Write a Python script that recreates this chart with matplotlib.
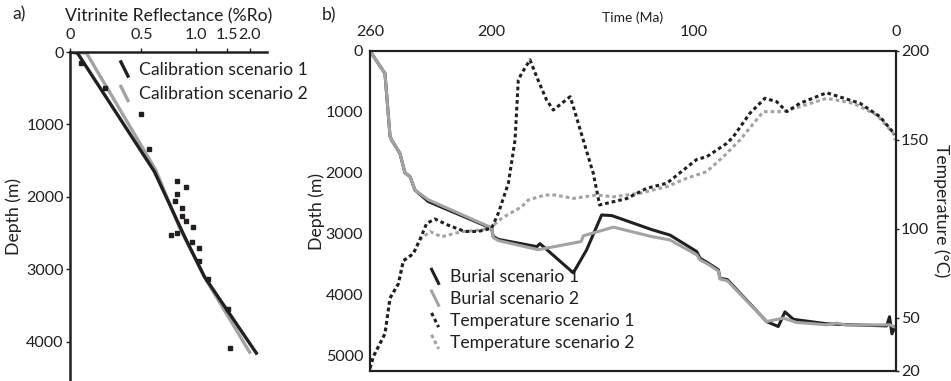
import matplotlib
matplotlib.use('Agg')
import matplotlib.pyplot as plt
from matplotlib.legend_handler import HandlerLine2D
from matplotlib.lines import Line2D
from matplotlib.ticker import FixedLocator, NullLocator

plt.rcParams['font.family'] = ['Lato', 'DejaVu Sans']

# a) vitrinite reflectance vs depth
ro_s1 = [0.2, 0.22, 0.59, 0.87, 1.12, 2.18]
ro_s1_depth = [0, 14, 1650, 2550, 3100, 4155]
ro_s2 = [0.2, 0.247, 0.60, 0.81, 1.13, 2.0]
ro_s2_depth = [0, 14, 1628, 2410, 3120, 4142]
ro_meas = [0.229, 0.315, 0.50, 0.554, 0.784, 0.89, 0.784, 0.764, 0.836, 0.836,
           0.89, 0.963, 0.727, 0.784, 0.952, 1.04, 1.04, 1.18, 1.51, 1.55]
ro_meas_depth = [152, 497, 855, 1338, 1779, 1862, 1959, 2055, 2152, 2262,
                 2331, 2414, 2524, 2497, 2621, 2703, 2883, 3131, 3545, 4083]
ro_ticks = [0.2, 0.5, 1.0, 1.5, 2.0]
ro_ticklabels = ['0', '0.5', '1.0', '1.5', '2.0']

# b) burial and temperature histories
burial1_age = [260, 252.6, 250.1, 249.3, 245.2, 242.7, 240.2, 237.8, 231.2, 199.9,
               199.1, 196.6, 177.5, 176.0, 159.5, 152.9, 145.5, 140.5, 120.8, 111.7,
               98.5, 96.9, 92.8, 87.8, 87.0, 83.4, 63.9, 58.2, 54.9, 50.8,
               49.1, 34.3, 24.4, 4.6, 3.2, 2.0, 0.5]
burial1_depth = [0, 370, 1400, 1460, 1680, 2000, 2060, 2280, 2470, 2910,
                 3040, 3090, 3210, 3160, 3640, 3260, 2690, 2700, 2930, 3020,
                 3290, 3400, 3480, 3590, 3730, 3750, 4440, 4520, 4280, 4400,
                 4410, 4475, 4490, 4510, 4360, 4640, 4525]
burial2_age = [260, 252.6, 250.1, 249.3, 245.2, 242.7, 240.2, 237.8, 231.2, 199.9,
               199.1, 196.6, 176.8, 155.6, 154.6, 139.7, 120.8, 111.7, 98.5, 96.9,
               92.8, 87.8, 87.0, 83.4, 63.9, 55.7, 49.1, 34.3, 29.3, 24.4,
               3.0, 0.5]
burial2_depth = [0, 370, 1400, 1460, 1680, 2000, 2060, 2280, 2440, 2900,
                 3060, 3110, 3260, 3126, 3033, 2890, 3044, 3100, 3344, 3426,
                 3500, 3610, 3740, 3770, 4438, 4382, 4454, 4492, 4464, 4497,
                 4492, 4530]
temp1_age = [260, 258.4, 252.6, 250.1, 246.0, 243.5, 238.6, 235.3, 232.0, 227.9,
             221.3, 213.1, 206.5, 199.9, 196.6, 191.6, 188.3, 186.7, 185.0, 180.9,
             177.6, 172.7, 169.4, 161.1, 159.5, 154.6, 149.6, 146.5, 133.1, 123.2,
             113.3, 98.5, 93.6, 83.7, 80.4, 72.2, 64.8, 59.0, 54.0, 47.5,
             34.3, 17.8, 7.9, 0.5]
temp1 = [21.5, 28, 41, 61, 69, 82, 86, 94, 103, 105.5,
         102, 98.5, 98.5, 100.3, 108.7, 125.6, 150, 183.7, 187.5, 195,
         185.5, 172.4, 166.8, 174.3, 168.7, 150, 131, 113.4, 117, 122.8,
         125.6, 139, 140.5, 148, 151.8, 165, 173.4, 171.5, 165.9, 170.6,
         176.5, 170.6, 163, 153]
temp2_age = [260, 258.4, 252.6, 250.1, 246.0, 243.5, 238.6, 235.3, 230.3, 224.6,
             214.7, 204.8, 199.9, 194.9, 185.0, 181.8, 173.5, 168.6, 159.5, 147.9,
             139.7, 126.5, 113.3, 103.5, 93.6, 85.4, 77.1, 65.6, 55.7, 47.5,
             34.3, 21.1, 9.5, 1.3, 0.5]
temp2 = [21.5, 28, 41, 61, 69, 82, 86, 94, 98.4, 95.5,
         98.4, 99.3, 101.2, 105.9, 112.4, 116.2, 119, 119, 117.1, 119,
         118, 120, 123.7, 128.4, 132.1, 140.5, 150, 165.9, 165.9, 168.7,
         173.4, 170.6, 164, 153.7, 149.9]
age_ticks = [260, 200, 100, 0]
depth_ticks = [0, 1000, 2000, 3000, 4000, 5000]
temp_ticks = [20, 50, 100, 150, 200]

BLACK = '#231f20'
GREY = '#a3a3a3'
FS = 12.7      # labels and legends
TFS = 11.6     # tick labels
DOT = (0, (1.2, 1.0))

plt.rcParams['text.color'] = BLACK
plt.rcParams['axes.labelcolor'] = BLACK
plt.rcParams['xtick.color'] = BLACK
plt.rcParams['ytick.color'] = BLACK
plt.rcParams['font.size'] = FS
plt.rcParams['xtick.labelsize'] = TFS
plt.rcParams['ytick.labelsize'] = TFS


class SlantHandler(HandlerLine2D):
    # legend key drawn as a short slanted stroke
    def create_artists(self, legend, orig_handle, xdescent, ydescent,
                       width, height, fontsize, trans):
        x0 = -xdescent + 0.15 * width
        line = Line2D([x0, x0 + 0.4 * width],
                      [height * 1.05 - ydescent, -0.1 * height - ydescent])
        self.update_prop(line, orig_handle, legend)
        line.set_transform(trans)
        return [line]


fig = plt.figure(figsize=(9.51, 3.81), dpi=100)

# ---- panel a
axa = fig.add_axes([70 / 951, 0, 197 / 951, 329 / 381])
axa.set_xscale('log')
axa.plot(ro_s2, ro_s2_depth, color=GREY, lw=2.4, label='Calibration scenario 2', zorder=2)
axa.plot(ro_s1, ro_s1_depth, color=BLACK, lw=2.4, label='Calibration scenario 1', zorder=3)
axa.plot(ro_meas, ro_meas_depth, 's', color=BLACK, ms=3, zorder=4)
axa.set_xlim(0.2, 2.5)
axa.set_ylim(4540, 0)
axa.xaxis.tick_top()
axa.xaxis.set_label_position('top')
axa.xaxis.set_major_locator(FixedLocator(ro_ticks))
axa.xaxis.set_minor_locator(NullLocator())
axa.set_xticklabels(ro_ticklabels)
axa.set_yticks([0, 1000, 2000, 3000, 4000])
axa.tick_params(axis='x', length=3, width=1, pad=4)
axa.tick_params(axis='y', length=3, width=1, pad=1.5)
axa.set_xlabel('Vitrinite Reflectance (%Ro)', labelpad=5)
axa.set_ylabel('Depth (m)', labelpad=3)
for s in ['right', 'bottom']:
    axa.spines[s].set_visible(False)
for s in ['top', 'left']:
    axa.spines[s].set_linewidth(1.8)
    axa.spines[s].set_color(BLACK)
h, l = axa.get_legend_handles_labels()
axa.legend(h[::-1], l[::-1], loc='upper left', bbox_to_anchor=(0.245, 0.97),
           frameon=False, fontsize=FS, handlelength=1.0, handletextpad=0.2,
           labelspacing=0.48, borderpad=0, borderaxespad=0,
           handler_map={Line2D: SlantHandler()})

# ---- panel b
axb = fig.add_axes([370 / 951, 10 / 381, 526 / 951, 320 / 381])
axt = axb.twinx()
b1, = axb.plot(burial1_age, burial1_depth, color=BLACK, lw=2.2, label='Burial scenario 1')
b2, = axb.plot(burial2_age, burial2_depth, color=GREY, lw=2.2, label='Burial scenario 2')
t2, = axt.plot(temp2_age, temp2, color=GREY, lw=2.2, ls=DOT, label='Temperature scenario 2')
t1, = axt.plot(temp1_age, temp1, color=BLACK, lw=2.2, ls=DOT, label='Temperature scenario 1')
axb.set_xlim(260, 0)
axb.set_ylim(5250, 0)
axt.set_ylim(20, 200)
axb.xaxis.tick_top()
axb.xaxis.set_label_position('top')
axb.set_xticks(age_ticks)
axb.set_yticks(depth_ticks)
axt.set_yticks(temp_ticks)
axb.tick_params(axis='x', length=0, pad=9)
axb.tick_params(axis='y', length=0, pad=5)
axt.tick_params(axis='y', length=2, width=1, pad=1.5)
axb.set_xlabel('Time (Ma)', fontsize=10, labelpad=2)
axb.set_ylabel('Depth (m)', labelpad=0.5)
axt.set_ylabel('Temperature (°C)', rotation=270, labelpad=3, va='bottom')
for ax in (axb, axt):
    for s in ax.spines.values():
        s.set_linewidth(1.5)
        s.set_color(BLACK)
axb.legend([b1, b2, t1, t2],
           [b1.get_label(), b2.get_label(), t1.get_label(), t2.get_label()],
           loc='upper left', bbox_to_anchor=(0.112, 0.318),
           frameon=False, fontsize=FS, handlelength=1.0, handletextpad=0.2,
           labelspacing=0.33, borderpad=0, borderaxespad=0,
           handler_map={Line2D: SlantHandler()})

fig.text(12 / 951, 1 - 14 / 381, 'a)', va='center', fontsize=FS)
fig.text(322 / 951, 1 - 15 / 381, 'b)', va='center', fontsize=FS)

fig.savefig('out.png', dpi=100)
